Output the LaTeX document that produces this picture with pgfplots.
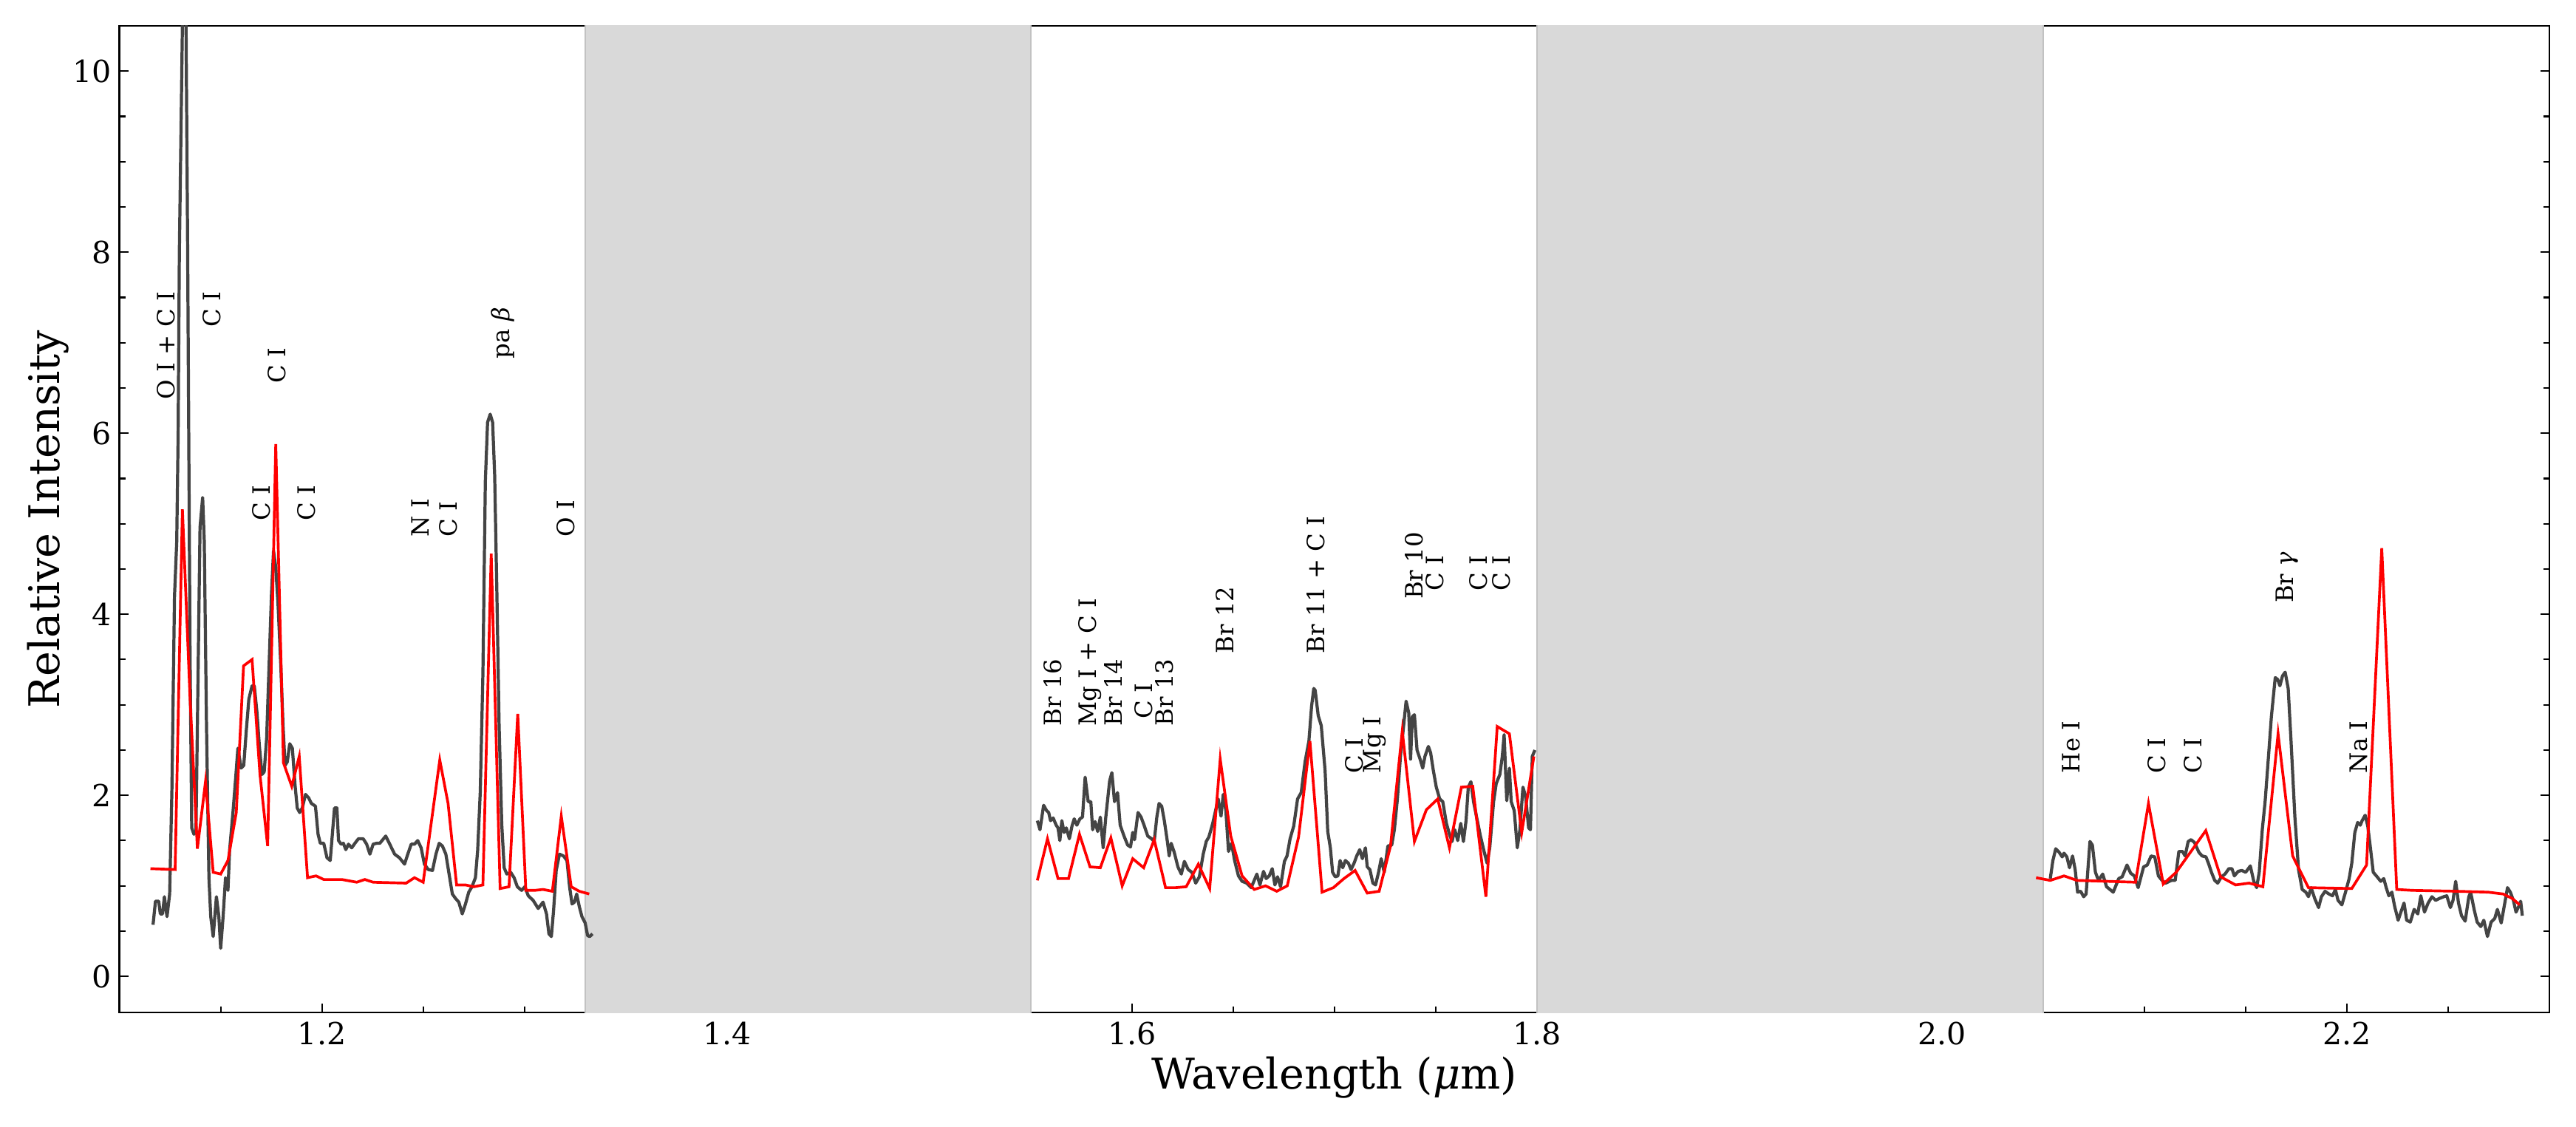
\documentclass[border=0pt]{standalone}
\usepackage{pgfplots}
\usepackage{pgfplotstable}
\pgfplotsset{compat=1.18}
\usepackage{fontspec}
\setmainfont{DejaVu Serif}

\definecolor{spec}{HTML}{444444}
\definecolor{shade}{HTML}{D9D9D9}
\definecolor{shadeedge}{HTML}{C2C2C2}
\tikzset{lab/.style={rotate=90, anchor=west, inner sep=0pt, font=\fontsize{9.2}{11}\selectfont}}

% observed spectrum, three bands
\pgfplotstableread{
x y
1.1166 0.57
1.1178 0.83
1.1194 0.83
1.1202 0.69
1.1213 0.69
1.1222 0.88
1.1235 0.66
1.1248 0.91
1.1259 2.04
1.1272 4.20
1.1283 4.80
1.1290 6.00
1.1296 8.00
1.1311 10.50
1.1320 12.50
1.1329 10.50
1.1337 8.00
1.1343 5.70
1.1349 3.50
1.1357 1.64
1.1368 1.57
1.1378 1.60
1.1385 2.77
1.1398 4.96
1.1411 5.29
1.1419 4.81
1.1430 2.77
1.1442 1.09
1.1451 0.66
1.1463 0.44
1.1479 0.88
1.1491 0.66
1.1500 0.31
1.1512 0.66
1.1524 1.09
1.1536 0.95
1.1544 1.39
1.1561 1.82
1.1574 2.19
1.1585 2.52
1.1601 2.30
1.1614 2.33
1.1626 2.70
1.1639 3.06
1.1655 3.21
1.1666 3.21
1.1679 2.92
1.1691 2.55
1.1704 2.23
1.1715 2.26
1.1727 2.63
1.1740 3.50
1.1751 4.23
1.1761 4.70
1.1772 4.52
1.1784 4.08
1.1797 3.43
1.1808 2.77
1.1818 2.33
1.1829 2.37
1.1841 2.57
1.1854 2.52
1.1867 2.12
1.1878 1.86
1.1890 1.81
1.1903 1.86
1.1919 2.01
1.1935 1.97
1.1948 1.91
1.1968 1.88
1.1981 1.57
1.1992 1.47
1.2009 1.47
1.2025 1.31
1.2041 1.28
1.2053 1.61
1.2062 1.86
1.2074 1.86
1.2082 1.50
1.2095 1.46
1.2106 1.47
1.2118 1.40
1.2131 1.46
1.2147 1.42
1.2163 1.47
1.2180 1.52
1.2204 1.52
1.2221 1.46
1.2237 1.35
1.2253 1.46
1.2269 1.47
1.2286 1.47
1.2315 1.55
1.2335 1.46
1.2359 1.35
1.2383 1.31
1.2408 1.24
1.2424 1.35
1.2441 1.46
1.2457 1.46
1.2473 1.50
1.2490 1.42
1.2506 1.24
1.2525 1.18
1.2546 1.17
1.2563 1.35
1.2579 1.47
1.2595 1.44
1.2612 1.35
1.2628 1.13
1.2644 0.91
1.2660 0.86
1.2676 0.82
1.2693 0.69
1.2709 0.80
1.2725 0.93
1.2741 0.99
1.2758 1.09
1.2769 1.39
1.2782 2.04
1.2795 3.35
1.2807 5.47
1.2818 6.12
1.2831 6.21
1.2843 6.12
1.2853 5.54
1.2864 4.23
1.2875 2.77
1.2888 1.68
1.2900 1.20
1.2913 1.13
1.2932 1.15
1.2949 1.09
1.2965 0.99
1.2986 0.95
1.3002 0.99
1.3019 0.89
1.3043 0.84
1.3068 0.75
1.3092 0.82
1.3109 0.69
1.3121 0.47
1.3133 0.44
1.3144 0.73
1.3157 1.17
1.3173 1.35
1.3193 1.33
1.3210 1.28
1.3223 0.99
1.3235 0.80
1.3247 0.82
1.3258 0.91
1.3271 0.77
1.3284 0.66
1.3300 0.59
1.3312 0.45
1.3323 0.44
1.3336 0.47
}\grayA

\pgfplotstableread{
x y
1.5533 1.72
1.5546 1.62
1.5564 1.89
1.5579 1.83
1.5589 1.81
1.5598 1.72
1.5611 1.75
1.5626 1.67
1.5635 1.64
1.5644 1.50
1.5654 1.72
1.5665 1.59
1.5676 1.64
1.5691 1.52
1.5704 1.66
1.5715 1.74
1.5728 1.67
1.5743 1.74
1.5756 1.76
1.5769 2.20
1.5784 1.93
1.5797 1.93
1.5806 1.62
1.5818 1.71
1.5831 1.60
1.5844 1.76
1.5858 1.42
1.5871 1.76
1.5890 2.16
1.5901 2.25
1.5914 1.93
1.5929 2.03
1.5942 1.67
1.5961 1.55
1.5979 1.45
1.5993 1.43
1.6004 1.59
1.6013 1.51
1.6030 1.81
1.6045 1.76
1.6060 1.67
1.6078 1.55
1.6097 1.52
1.6110 1.49
1.6123 1.76
1.6134 1.91
1.6147 1.88
1.6160 1.72
1.6175 1.49
1.6184 1.33
1.6194 1.47
1.6209 1.37
1.6227 1.21
1.6244 1.13
1.6259 1.27
1.6278 1.18
1.6296 1.15
1.6315 1.03
1.6333 1.10
1.6352 1.35
1.6367 1.49
1.6380 1.54
1.6399 1.69
1.6413 1.83
1.6426 1.96
1.6440 1.77
1.6451 2.01
1.6464 1.83
1.6477 1.38
1.6492 1.47
1.6507 1.28
1.6526 1.11
1.6544 1.05
1.6567 1.03
1.6589 0.98
1.6604 1.06
1.6617 1.13
1.6632 1.01
1.6650 1.16
1.6663 1.08
1.6678 1.11
1.6693 1.19
1.6706 1.01
1.6719 1.10
1.6734 0.99
1.6753 1.27
1.6766 1.33
1.6781 1.52
1.6799 1.66
1.6818 1.96
1.6836 2.03
1.6855 2.37
1.6874 2.60
1.6887 2.98
1.6898 3.18
1.6905 3.16
1.6920 2.88
1.6935 2.77
1.6954 2.27
1.6967 1.60
1.6980 1.42
1.6991 1.15
1.7004 1.10
1.7017 1.11
1.7028 1.28
1.7041 1.20
1.7054 1.28
1.7069 1.25
1.7082 1.18
1.7097 1.25
1.7110 1.33
1.7125 1.40
1.7138 1.30
1.7153 1.42
1.7162 1.21
1.7175 1.18
1.7190 1.03
1.7203 1.01
1.7218 1.15
1.7231 1.30
1.7246 1.15
1.7264 1.44
1.7283 1.45
1.7296 1.62
1.7311 1.96
1.7326 2.43
1.7339 2.71
1.7354 3.04
1.7367 2.91
1.7376 2.40
1.7385 2.87
1.7395 2.89
1.7408 2.50
1.7423 2.40
1.7436 2.30
1.7447 2.43
1.7464 2.54
1.7475 2.47
1.7488 2.28
1.7503 2.09
1.7520 1.96
1.7535 1.93
1.7553 1.69
1.7568 1.57
1.7581 1.49
1.7594 1.62
1.7609 1.50
1.7624 1.69
1.7637 1.49
1.7650 1.72
1.7661 2.09
1.7674 2.15
1.7687 1.93
1.7702 1.76
1.7721 1.55
1.7739 1.38
1.7754 1.25
1.7767 1.42
1.7786 1.93
1.7799 2.13
1.7817 2.23
1.7829 2.43
1.7838 2.67
1.7851 1.94
1.7864 2.30
1.7873 1.93
1.7888 1.83
1.7903 1.42
1.7916 1.62
1.7931 2.09
1.7944 1.99
1.7959 1.64
1.7968 1.62
1.7977 2.43
1.7990 2.50
}\grayB

\pgfplotstableread{
x y
2.0535 1.08
2.0548 1.28
2.0562 1.41
2.0579 1.37
2.0594 1.32
2.0603 1.36
2.0617 1.32
2.0630 1.20
2.0645 1.33
2.0658 1.18
2.0670 0.93
2.0685 0.94
2.0700 0.88
2.0712 0.91
2.0731 1.49
2.0743 1.45
2.0758 1.15
2.0773 1.06
2.0794 1.13
2.0813 0.99
2.0846 0.93
2.0873 1.08
2.0890 1.10
2.0914 1.23
2.0932 1.14
2.0950 1.11
2.0969 0.98
2.0996 1.21
2.1014 1.23
2.1033 1.33
2.1051 1.32
2.1069 1.11
2.1087 1.06
2.1105 1.03
2.1133 1.06
2.1152 1.06
2.1170 1.38
2.1188 1.38
2.1201 1.33
2.1216 1.49
2.1230 1.51
2.1247 1.48
2.1269 1.37
2.1285 1.33
2.1304 1.32
2.1316 1.25
2.1331 1.15
2.1347 1.06
2.1362 1.03
2.1380 1.10
2.1398 1.13
2.1417 1.19
2.1432 1.19
2.1444 1.11
2.1463 1.16
2.1481 1.17
2.1500 1.15
2.1523 1.22
2.1540 1.05
2.1554 0.98
2.1567 1.15
2.1582 1.62
2.1596 1.93
2.1614 2.47
2.1627 2.87
2.1646 3.30
2.1658 3.28
2.1669 3.21
2.1682 3.32
2.1695 3.36
2.1710 3.18
2.1724 2.60
2.1743 1.76
2.1761 1.18
2.1779 0.96
2.1797 0.93
2.1810 0.88
2.1823 0.98
2.1841 0.86
2.1860 0.76
2.1874 0.88
2.1892 0.94
2.1911 0.91
2.1929 0.89
2.1943 0.96
2.1956 0.84
2.1975 0.79
2.1993 0.93
2.2011 1.08
2.2024 1.25
2.2039 1.59
2.2053 1.70
2.2066 1.67
2.2075 1.72
2.2090 1.78
2.2103 1.66
2.2116 1.42
2.2130 1.15
2.2149 1.10
2.2167 1.05
2.2182 1.08
2.2194 0.98
2.2207 0.89
2.2222 0.93
2.2236 0.77
2.2253 0.62
2.2268 0.72
2.2282 0.81
2.2295 0.62
2.2313 0.60
2.2332 0.74
2.2350 0.69
2.2365 0.89
2.2383 0.71
2.2401 0.81
2.2420 0.88
2.2438 0.84
2.2456 0.86
2.2478 0.88
2.2493 0.89
2.2511 0.76
2.2524 0.84
2.2537 1.05
2.2551 0.81
2.2566 0.67
2.2584 0.61
2.2602 0.88
2.2611 0.93
2.2628 0.74
2.2643 0.60
2.2661 0.55
2.2676 0.62
2.2694 0.44
2.2712 0.60
2.2730 0.64
2.2743 0.74
2.2762 0.59
2.2774 0.74
2.2793 0.98
2.2807 0.93
2.2822 0.84
2.2835 0.71
2.2848 0.77
2.2858 0.83
2.2866 0.67
}\grayC

% model, three bands
\pgfplotstableread{
x y
1.1153 1.19
1.1275 1.18
1.1311 5.16
1.1349 3.06
1.1385 1.41
1.1425 2.15
1.1463 1.15
1.1500 1.13
1.1536 1.28
1.1577 1.81
1.1613 3.43
1.1655 3.50
1.1694 2.23
1.1732 1.44
1.1772 5.88
1.1810 2.36
1.1851 2.10
1.1888 2.43
1.1929 1.09
1.1971 1.11
1.2009 1.07
1.2098 1.07
1.2172 1.04
1.2212 1.07
1.2253 1.04
1.2416 1.03
1.2457 1.09
1.2500 1.04
1.2582 2.39
1.2623 1.91
1.2665 1.01
1.2709 1.01
1.2750 0.99
1.2795 1.01
1.2836 4.67
1.2880 0.97
1.2924 0.99
1.2967 2.90
1.3007 0.95
1.3051 0.95
1.3092 0.96
1.3138 0.94
1.3182 1.77
1.3231 0.99
1.3271 0.94
1.3320 0.91
}\redA

\pgfplotstableread{
x y
1.5533 1.06
1.5583 1.52
1.5635 1.08
1.5687 1.08
1.5741 1.57
1.5793 1.21
1.5844 1.20
1.5896 1.53
1.5952 1.00
1.6004 1.30
1.6058 1.20
1.6110 1.51
1.6166 0.98
1.6216 0.98
1.6268 0.99
1.6328 1.24
1.6384 0.97
1.6436 2.40
1.6488 1.55
1.6544 1.11
1.6604 0.96
1.6660 1.00
1.6715 0.94
1.6767 1.00
1.6823 1.54
1.6879 2.60
1.6939 0.93
1.6995 0.98
1.7047 1.08
1.7102 1.17
1.7162 0.92
1.7221 0.94
1.7277 1.44
1.7335 2.71
1.7395 1.49
1.7454 1.84
1.7510 1.96
1.7568 1.42
1.7627 2.09
1.7683 2.10
1.7748 0.88
1.7804 2.76
1.7864 2.68
1.7925 1.59
1.7985 2.43
}\redB

\pgfplotstableread{
x y
2.0465 1.09
2.0535 1.06
2.0603 1.11
2.0667 1.06
2.0813 1.05
2.0956 1.04
2.1020 1.91
2.1093 1.02
2.1157 1.15
2.1303 1.61
2.1376 1.10
2.1450 1.01
2.1517 1.03
2.1585 0.99
2.1660 2.68
2.1732 1.33
2.1810 0.98
2.2024 0.97
2.2097 1.23
2.2172 4.73
2.2246 0.96
2.2322 0.95
2.2542 0.94
2.2698 0.93
2.2771 0.91
2.2817 0.86
2.2853 0.79
}\redC

\begin{document}
\begin{tikzpicture}
\path[use as bounding box] (-1.616cm,-1.54cm) rectangle (33.24cm,13.70cm);
\begin{axis}[
    scale only axis,
    width=32.88cm,
    height=13.35cm,
    xmin=1.10, xmax=2.30,
    ymin=-0.4, ymax=10.5,
    axis line style={line width=0.65pt},
    xtick={1.2,1.4,1.6,1.8,2.0,2.2},
    minor xtick={1.15,1.25,1.3,1.35,1.45,1.5,1.55,1.65,1.7,1.75,1.85,1.9,1.95,2.05,2.1,2.15,2.25},
    ytick={0,2,4,6,8,10},
    minor ytick={0.5,1,1.5,2.5,3,3.5,4.5,5,5.5,6.5,7,7.5,8.5,9,9.5,10.5},
    xtick pos=bottom,
    ytick pos=both,
    tick align=inside,
    major tick length=0.12cm,
    minor tick length=0.085cm,
    every tick/.style={line width=0.6pt, black},
    ticklabel style={font=\fontsize{11.7}{14}\selectfont, inner sep=0pt},
    /pgf/number format/assume math mode=true,
    xticklabel style={/pgf/number format/fixed, /pgf/number format/fixed zerofill, /pgf/number format/precision=1, yshift=-0.117cm},
    yticklabel style={xshift=-0.1cm},
    xlabel={Wavelength (\textit{μ}m)},
    ylabel={Relative Intensity},
    label style={font=\fontsize{16.3}{20}\selectfont, inner sep=0pt},
    xlabel style={at={(axis description cs:0.5,0)}, anchor=base, yshift=-1.03cm},
    ylabel style={at={(axis description cs:0,0.5)}, anchor=base, yshift=0.816cm},
  ]
  % masked telluric bands
  \addplot[fill=shade, draw=shadeedge, line width=0.5pt] coordinates {(1.33,-1) (1.55,-1) (1.55,11) (1.33,11)} -- cycle;
  \addplot[fill=shade, draw=shadeedge, line width=0.5pt] coordinates {(1.80,-1) (2.05,-1) (2.05,11) (1.80,11)} -- cycle;

  \addplot[spec, line width=1.2pt, line join=round] table {\grayA};
  \addplot[spec, line width=1.2pt, line join=round] table {\grayB};
  \addplot[spec, line width=1.2pt, line join=round] table {\grayC};
  \addplot[red, line width=1.05pt] table {\redA};
  \addplot[red, line width=1.05pt] table {\redB};
  \addplot[red, line width=1.05pt] table {\redC};

  % line identifications
  \node[lab] at (axis cs:1.1230,6.37) {O I + C I};
  \node[lab] at (axis cs:1.1455,7.17) {C I};
  \node[lab] at (axis cs:1.1702,5.03) {C I};
  \node[lab] at (axis cs:1.1779,6.55) {C I};
  \node[lab] at (axis cs:1.1925,5.03) {C I};
  \node[lab] at (axis cs:1.2486,4.85) {N I};
  \node[lab] at (axis cs:1.2626,4.85) {C I};
  \node[lab] at (axis cs:1.2892,6.82) {pa \textit{β}};
  \node[lab] at (axis cs:1.3203,4.85) {O I};

  \node[lab] at (axis cs:1.5609,2.76) {Br 16};
  \node[lab] at (axis cs:1.5792,2.76) {Mg I + C I};
  \node[lab] at (axis cs:1.5909,2.76) {Br 14};
  \node[lab] at (axis cs:1.6058,2.84) {C I};
  \node[lab] at (axis cs:1.6162,2.76) {Br 13};
  \node[lab] at (axis cs:1.6460,3.56) {Br 12};
  \node[lab] at (axis cs:1.6907,3.56) {Br 11 + C I};
  \node[lab] at (axis cs:1.7097,2.24) {C I};
  \node[lab] at (axis cs:1.7200,2.24) {Mg I};
  \node[lab] at (axis cs:1.7395,4.16) {Br 10};
  \node[lab] at (axis cs:1.7497,4.25) {C I};
  \node[lab] at (axis cs:1.7711,4.25) {C I};
  \node[lab] at (axis cs:1.7825,4.25) {C I};

  \node[lab] at (axis cs:2.0639,2.24) {He I};
  \node[lab] at (axis cs:2.1062,2.24) {C I};
  \node[lab] at (axis cs:2.1240,2.24) {C I};
  \node[lab] at (axis cs:2.1704,4.12) {Br \textit{γ}};
  \node[lab] at (axis cs:2.2057,2.24) {Na I};
\end{axis}
\end{tikzpicture}
\end{document}
